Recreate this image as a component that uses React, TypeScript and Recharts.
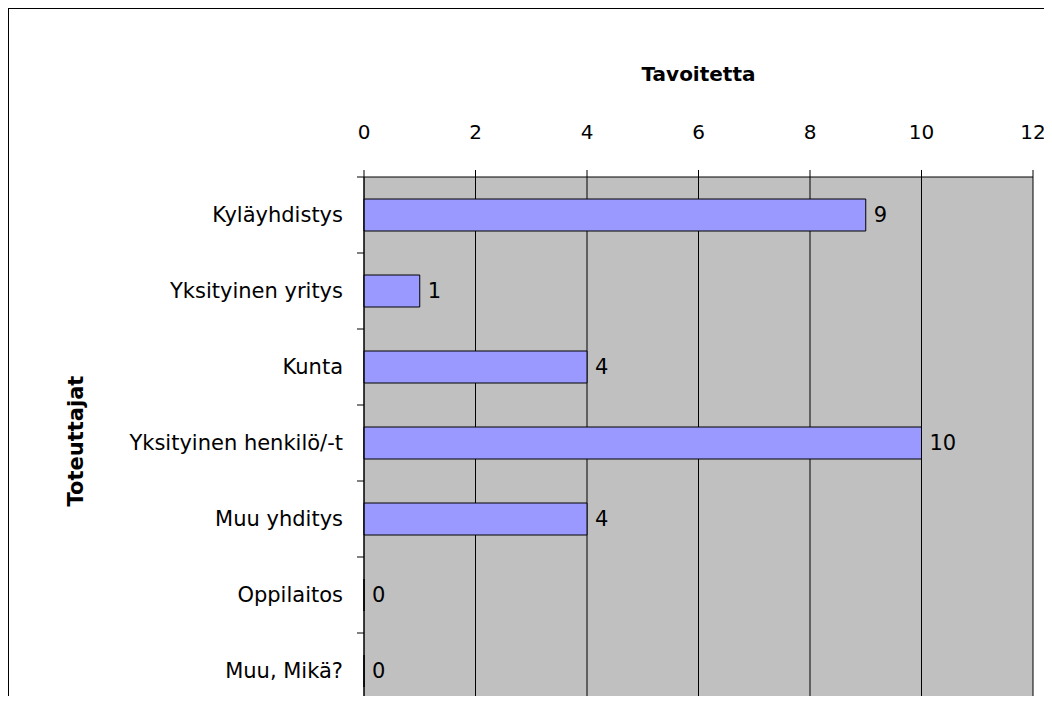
import { BarChart, Bar, XAxis, YAxis, CartesianGrid, LabelList, Label } from "recharts";

const categories = [
  "Kyläyhdistys",
  "Yksityinen yritys",
  "Kunta",
  "Yksityinen henkilö/-t",
  "Muu yhditys",
  "Oppilaitos",
  "Muu, Mikä?",
];
const counts = [9, 1, 4, 10, 4, 0, 0];
const xTicks = [0, 2, 4, 6, 8, 10, 12];

const xTitle = "Tavoitetta";
const yTitle = "Toteuttajat";

const FONT = "'DejaVu Sans', sans-serif";
const TICK_SIZE = 7;
const TICK_MARGIN = 14;

const data = categories.map((name, i) => ({ name, value: counts[i] }));

// category ticks sit on band edges, label stays in the middle
function CategoryTick(props: any) {
  const { x, y, payload } = props;
  const edge = y - (payload?.offset ?? 38);
  return (
    <g>
      <line
        x1={x + TICK_MARGIN}
        x2={x + TICK_MARGIN + TICK_SIZE}
        y1={edge}
        y2={edge}
        stroke="#000"
      />
      <text x={x} y={y} dy={7} textAnchor="end" fontSize={21} fill="#000" fontFamily={FONT}>
        {payload.value}
      </text>
    </g>
  );
}

function TopTitle(props: any) {
  const vb = props.viewBox || {};
  return (
    <text
      x={vb.x + vb.width / 2}
      y={72}
      textAnchor="middle"
      fontSize={20}
      fontWeight="bold"
      fill="#000"
      fontFamily={FONT}
    >
      {xTitle}
    </text>
  );
}

function SideTitle(props: any) {
  const vb = props.viewBox || {};
  const cy = vb.y + vb.height / 2 - 2;
  return (
    <text
      x={74}
      y={cy}
      transform={`rotate(-90 74 ${cy})`}
      textAnchor="middle"
      fontSize={21}
      fontWeight="bold"
      fill="#000"
      fontFamily={FONT}
    >
      {yTitle}
    </text>
  );
}

function ValueLabel(props: any) {
  const { x, y, width, height, value } = props;
  if (value === undefined || value === null) return null;
  return (
    <text
      x={Math.max(x, x + width) + 8}
      y={y + height / 2}
      dy={7}
      fontSize={21}
      fill="#000"
      fontFamily={FONT}
    >
      {value}
    </text>
  );
}

export default function App() {
  return (
    <div style={{ height: 696, overflow: "hidden", marginBottom: -8 }}>
      <div
        style={{
          width: 1043,
          height: 720,
          border: "1px solid #000",
          boxSizing: "border-box",
          background: "#fff",
          fontFamily: FONT,
        }}
      >
        <BarChart
          width={1041}
          height={710}
          data={data}
          layout="vertical"
          margin={{ top: 0, right: 17, bottom: 10, left: 0 }}
        >
          <CartesianGrid horizontal={false} stroke="#000" fill="#C0C0C0" fillOpacity={1} />
          <XAxis
            type="number"
            orientation="top"
            domain={[0, 12]}
            ticks={xTicks}
            interval={0}
            height={168}
            tickSize={TICK_SIZE}
            tickMargin={31}
            axisLine={{ stroke: "#000" }}
            tickLine={{ stroke: "#000" }}
            tick={{ fontSize: 20, fill: "#000", fontFamily: FONT }}
          >
            <Label content={TopTitle} />
          </XAxis>
          <YAxis
            type="category"
            dataKey="name"
            width={355}
            interval={0}
            tickSize={TICK_SIZE}
            tickMargin={TICK_MARGIN}
            tickLine={false}
            axisLine={{ stroke: "#000" }}
            tick={<CategoryTick />}
          >
            <Label content={SideTitle} />
          </YAxis>
          <Bar
            dataKey="value"
            fill="#9999FF"
            stroke="#000"
            strokeWidth={1}
            barSize={32}
            minPointSize={0.01}
            isAnimationActive={false}
          >
            <LabelList dataKey="value" content={ValueLabel} />
          </Bar>
        </BarChart>
      </div>
    </div>
  );
}
